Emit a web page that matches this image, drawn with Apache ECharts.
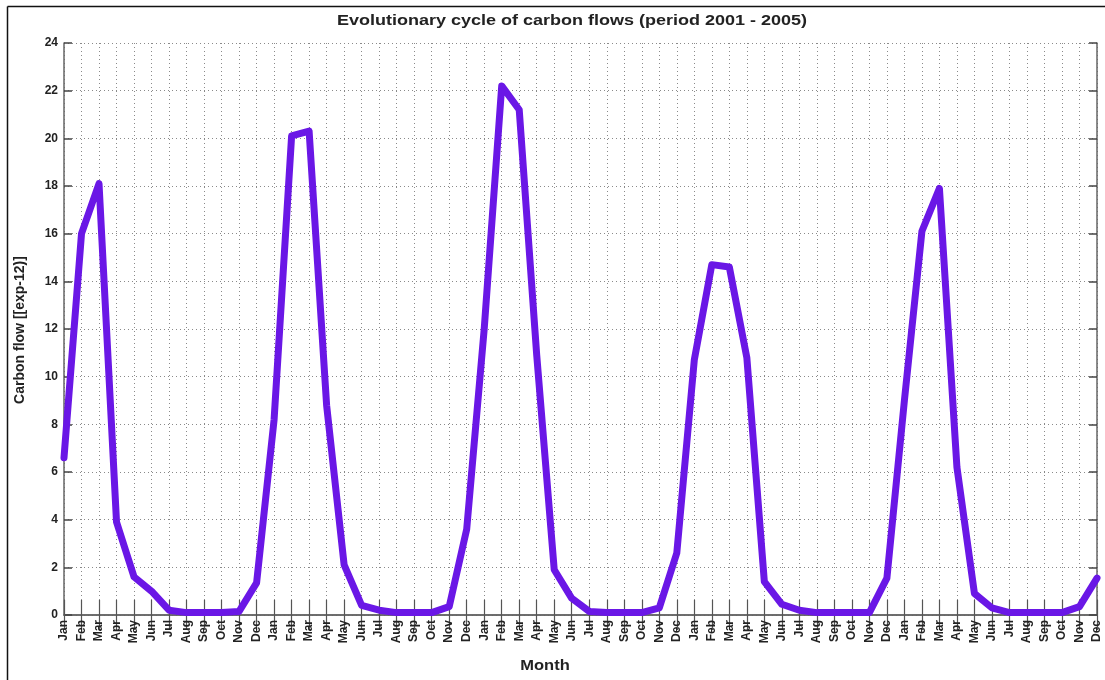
<!DOCTYPE html>
<html>
<head>
<meta charset="utf-8">
<script src="https://cdn.jsdelivr.net/npm/echarts@6/dist/echarts.min.js"></script>
<style>
html,body{margin:0;padding:0;background:#fff;}
#c{width:1105px;height:680px;}
</style>
</head>
<body>
<div id="c"></div>
<script>
var monthNames = ['Jan','Feb','Mar','Apr','May','Jun','Jul','Aug','Sep','Oct','Nov','Dec'];
var years = [2001, 2002, 2003, 2004, 2005];
var flow2001 = [6.6, 16.0, 18.1, 3.9, 1.6, 1.0, 0.2, 0.1, 0.1, 0.1, 0.15, 1.35];
var flow2002 = [8.2, 20.1, 20.3, 8.8, 2.1, 0.4, 0.2, 0.1, 0.1, 0.1, 0.35, 3.6];
var flow2003 = [12.0, 22.2, 21.2, 10.9, 1.9, 0.7, 0.15, 0.1, 0.1, 0.1, 0.3, 2.6];
var flow2004 = [10.7, 14.7, 14.6, 10.8, 1.4, 0.45, 0.2, 0.1, 0.1, 0.1, 0.1, 1.55];
var flow2005 = [9.0, 16.1, 17.9, 6.2, 0.9, 0.3, 0.1, 0.1, 0.1, 0.1, 0.35, 1.55];
var yTicks = [0, 2, 4, 6, 8, 10, 12, 14, 16, 18, 20, 22, 24];

var categories = [];
years.forEach(function(){ categories = categories.concat(monthNames); });
var values = [].concat(flow2001, flow2002, flow2003, flow2004, flow2005);

var FONT = 'Liberation Sans, Arial, sans-serif';
var chart = echarts.init(document.getElementById('c'), null, {renderer: 'canvas'});
var option = {
  backgroundColor: '#fff',
  animation: false,
  grid: {left: 64, right: 8, top: 43, bottom: 65, containLabel: false},
  xAxis: [{
    type: 'category',
    data: categories,
    boundaryGap: false,
    axisLine: {show: true, lineStyle: {color: '#666', width: 1.5}},
    axisTick: {show: true, inside: true, length: 15, interval: 0, lineStyle: {color: '#555', width: 1.2}},
    axisLabel: {interval: 0, rotate: 90, fontFamily: FONT, fontSize: 12, fontWeight: 'bold', color: '#222', margin: 5},
    splitLine: {show: true, interval: 0, lineStyle: {color: '#8a8a8a', type: [1, 3], width: 1}}
  }, {
    type: 'category',
    data: categories,
    boundaryGap: false,
    position: 'top',
    axisLine: {show: true, lineStyle: {color: '#666', width: 1.5}},
    axisTick: {show: true, inside: true, length: 15, interval: 0, lineStyle: {color: '#555', width: 1.2}},
    axisLabel: {show: false},
    splitLine: {show: false}
  }],
  yAxis: [{
    type: 'value',
    min: 0, max: 24, interval: 2,
    axisLine: {show: true, lineStyle: {color: '#666', width: 1.5}},
    axisTick: {show: true, inside: true, length: 8, lineStyle: {color: '#444', width: 1.5}},
    axisLabel: {fontFamily: FONT, fontSize: 12, fontWeight: 'bold', color: '#222', margin: 6,
      formatter: function(v){ return yTicks.indexOf(v) >= 0 ? String(v) : ''; }},
    splitLine: {show: true, lineStyle: {color: '#8a8a8a', type: [1, 3], width: 1}}
  }, {
    type: 'value',
    min: 0, max: 24, interval: 2,
    position: 'right',
    axisLine: {show: true, lineStyle: {color: '#666', width: 1.5}},
    axisTick: {show: true, inside: true, length: 8, lineStyle: {color: '#444', width: 1.5}},
    axisLabel: {show: false},
    splitLine: {show: false}
  }],
  series: [{
    type: 'line',
    xAxisIndex: 0,
    yAxisIndex: 0,
    data: values,
    showSymbol: false,
    symbol: 'none',
    smooth: false,
    clip: false,
    lineStyle: {color: '#6a17e6', width: 7, join: 'round', cap: 'round'}
  }],
  graphic: [
    {type: 'line', shape: {x1: 7.5, y1: 6.5, x2: 1105, y2: 6.5}, style: {stroke: '#111', lineWidth: 1.5}},
    {type: 'line', shape: {x1: 7.5, y1: 6.5, x2: 7.5, y2: 680}, style: {stroke: '#111', lineWidth: 1.5}},
    {type: 'text', x: 572, y: 21, scaleX: 1.2, originX: 0, originY: 0,
      style: {text: 'Evolutionary cycle of carbon flows (period 2001 - 2005)', align: 'center', verticalAlign: 'middle',
        font: 'bold 15px ' + FONT, fill: '#222'}},
    {type: 'text', x: 545, y: 666, scaleX: 1.1, originX: 0, originY: 0,
      style: {text: 'Month', align: 'center', verticalAlign: 'middle', font: 'bold 15px ' + FONT, fill: '#222'}},
    {type: 'text', x: 20, y: 330, rotation: Math.PI / 2, originX: 0, originY: 0,
      style: {text: 'Carbon flow [[exp-12)]', align: 'center', verticalAlign: 'middle', font: 'bold 14px ' + FONT, fill: '#222'}}
  ]
};
chart.setOption(option);
</script>
</body>
</html>
